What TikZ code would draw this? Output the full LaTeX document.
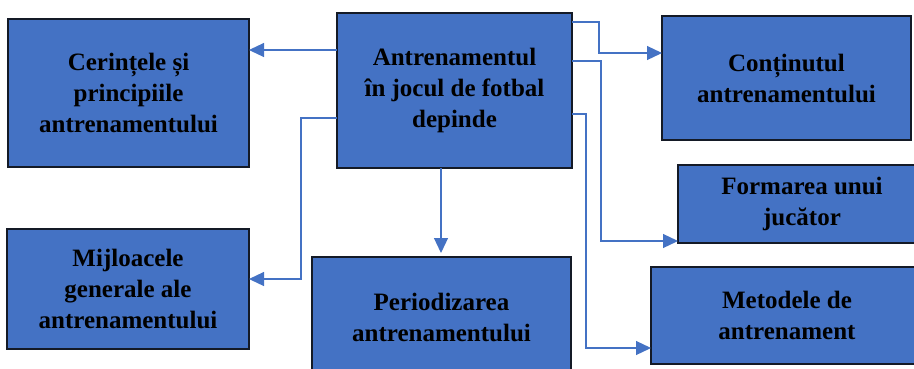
\documentclass[tikz,border=0pt]{standalone}
\usepackage{fontspec}
\setmainfont{Liberation Serif}
\usetikzlibrary{arrows.meta,calc}
\definecolor{boxblue}{HTML}{4472C4}
\definecolor{boxedge}{HTML}{141A26}
\begin{document}
\begin{tikzpicture}[x=1pt,y=-1pt,
  box/.style={draw=boxedge,line width=2pt,fill=boxblue,rectangle,outer sep=0pt,inner sep=0pt,
    align=center,font=\fontsize{25}{31}\selectfont\bfseries,text=black},
  conn/.style={draw=boxblue,line width=1.2pt,-{Triangle[length=15pt,width=14pt]}}]
\useasboundingbox (0,0) rectangle (914,368);
\clip (0,0) rectangle (914,368);
\node[box,minimum width=235pt,minimum height=155pt] (c) at (454.5,90.5) {Antrenamentul\\în jocul de fotbal\\depinde};
\node[box,minimum width=241pt,minimum height=148pt] (cer) at (128.5,93) {Cerințele și\\principiile\\antrenamentului};
\node[box,minimum width=242pt,minimum height=120pt] (mij) at (128,289) {Mijloacele\\generale ale\\antrenamentului};
\node[box,minimum width=259pt,minimum height=120pt] (per) at (441.5,317) {Periodizarea\\antrenamentului};
\node[box,minimum width=249pt,minimum height=124pt] (con) at (786.5,78) {Conținutul\\antrenamentului};
\node[box,minimum width=248pt,minimum height=78pt] (for) at (802,204) {Formarea unui\\jucător};
\node[box,minimum width=272pt,minimum height=97pt] (met) at (787,315.5) {Metodele de\\antrenament};
\coordinate (k1) at (599,0);
\coordinate (k2) at (601,0);
\coordinate (k3) at (586,0);
\coordinate (k4) at (301,0);
\draw[conn] ($(c.north west)+(0,37)$) -- (cer.east |- {$(c.north west)+(0,37)$});
\draw[conn] ($(c.north east)+(0,9)$) -| ($(k1)+(0,53)$) -- (con.west |- {$(k1)+(0,53)$});
\draw[conn] ($(c.north east)+(0,48)$) -| ($(k2)+(0,241)$) -- (for.west |- {$(k2)+(0,241)$});
\draw[conn] ($(c.north east)+(0,101)$) -| ($(k3)+(0,348)$) -- (met.west |- {$(k3)+(0,348)$});
\draw[conn] ($(c.north west)+(0,105)$) -| ($(k4)+(0,279)$) -- (mij.east |- {$(k4)+(0,279)$});
\draw[conn] ($(c.south west)+(104,0)$) -- ($(c.south west)+(104,85)$);
\end{tikzpicture}
\end{document}
